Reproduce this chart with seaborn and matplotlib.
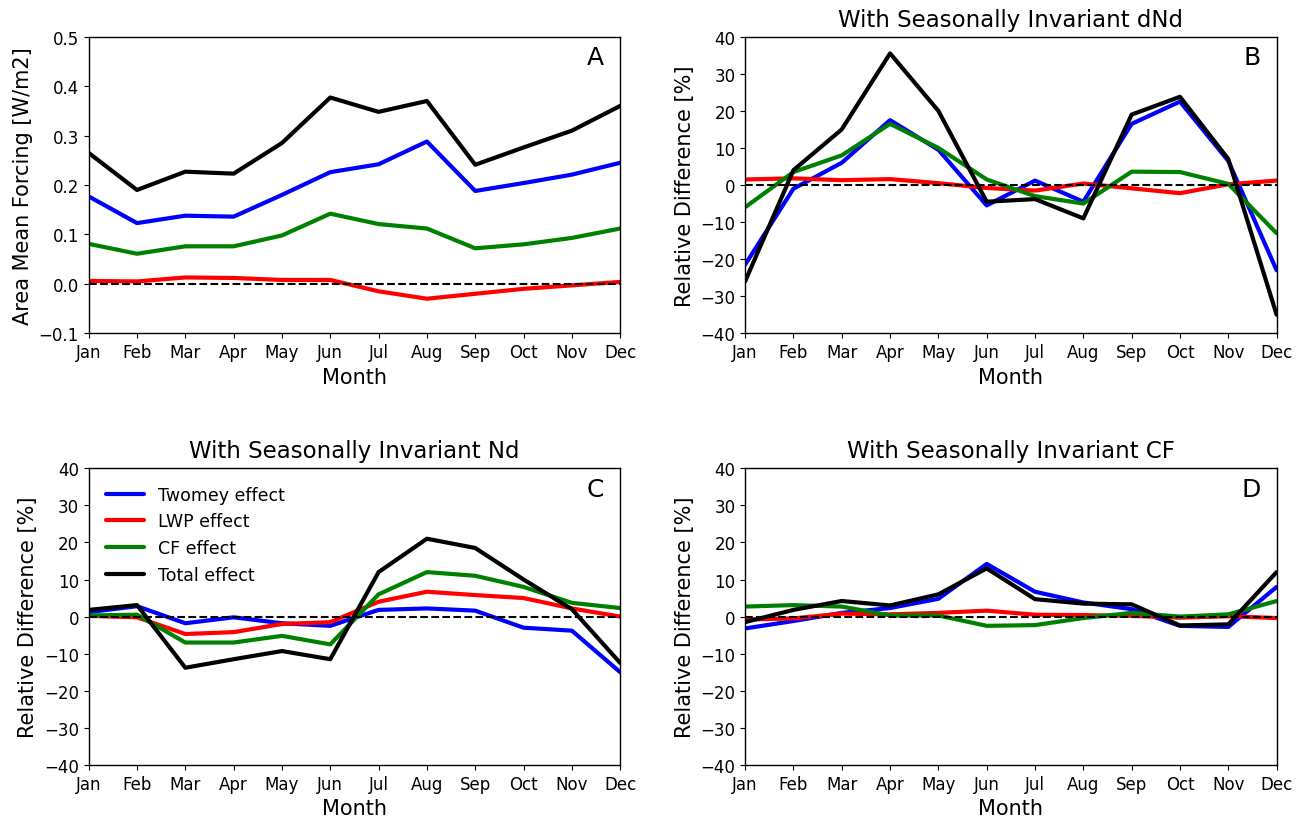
'''Seasonal forcing decomposition - four panel line chart'''

import matplotlib
matplotlib.use("Agg")
import matplotlib.pyplot as plt
import seaborn as sns
import pandas as pd
import numpy as np

# ----------------------------------------------------------- data -----------------------------------------------------------

months = ['Jan', 'Feb', 'Mar', 'Apr', 'May', 'Jun', 'Jul', 'Aug', 'Sep', 'Oct', 'Nov', 'Dec']
effects = ['Twomey effect', 'LWP effect', 'CF effect', 'Total effect']

# panel A: area mean forcing [W/m2]
a_twomey = [0.177, 0.123, 0.138, 0.136, 0.180, 0.226, 0.242, 0.288, 0.188, 0.204, 0.221, 0.245]
a_lwp    = [0.006, 0.005, 0.013, 0.012, 0.008, 0.008, -0.015, -0.030, -0.020, -0.010, -0.003, 0.004]
a_cf     = [0.081, 0.061, 0.076, 0.076, 0.098, 0.142, 0.121, 0.112, 0.072, 0.080, 0.093, 0.112]
a_total  = [0.265, 0.190, 0.227, 0.223, 0.285, 0.377, 0.348, 0.370, 0.241, 0.276, 0.310, 0.360]

# panel B: seasonally invariant dNd [%]
b_twomey = [-21.5, -1.0, 6.0, 17.5, 9.5, -5.5, 1.2, -4.5, 16.5, 22.5, 6.5, -23.0]
b_lwp    = [1.5, 1.8, 1.3, 1.6, 0.5, -0.8, -1.5, 0.4, -0.9, -2.2, 0.2, 1.2]
b_cf     = [-6.0, 3.5, 8.0, 16.5, 10.0, 1.5, -3.0, -5.0, 3.6, 3.5, 0.3, -13.0]
b_total  = [-26.0, 4.0, 15.0, 35.5, 20.0, -4.5, -3.8, -9.0, 19.0, 23.8, 7.0, -35.0]

# panel C: seasonally invariant Nd [%]
c_twomey = [1.2, 2.8, -1.8, -0.2, -1.8, -2.5, 1.8, 2.2, 1.6, -3.0, -3.8, -15.0]
c_lwp    = [0.2, -0.2, -4.7, -4.2, -2.0, -1.5, 4.0, 6.7, 5.8, 5.0, 2.2, 0.0]
c_cf     = [0.3, 0.5, -7.0, -7.0, -5.2, -7.5, 6.0, 12.0, 11.0, 8.0, 3.7, 2.3]
c_total  = [1.8, 3.1, -13.8, -11.5, -9.3, -11.5, 12.0, 21.0, 18.5, 10.0, 2.0, -12.5]

# panel D: seasonally invariant CF [%]
d_twomey = [-3.2, -1.2, 1.0, 2.3, 4.8, 14.2, 6.7, 3.8, 2.0, -2.5, -2.8, 8.0]
d_lwp    = [-0.8, -0.5, 0.8, 0.6, 1.0, 1.6, 0.5, 0.4, 0.2, -0.3, 0.1, -0.4]
d_cf     = [2.7, 3.1, 2.7, 0.3, 0.3, -2.5, -2.3, -0.4, 1.0, 0.0, 0.6, 4.2]
d_total  = [-1.5, 1.8, 4.2, 3.0, 6.0, 13.0, 4.7, 3.5, 3.3, -2.4, -2.1, 12.0]

palette = {'Twomey effect': 'blue', 'LWP effect': 'red', 'CF effect': 'green', 'Total effect': 'black'}

# --------------------------------------------------------- helpers ---------------------------------------------------------

def to_long(series):
    '''stack the four effect series into one long dataframe'''
    frames = []
    for name, vals in zip(effects, series):
        frames.append(pd.DataFrame({'month': np.arange(len(months)), 'value': vals, 'effect': name}))
    return pd.concat(frames, ignore_index=True)


def draw_panel(ax, series, letter, ylim, yticks, ylabel, title=None, legend=False):
    '''draw one panel with lines, zero line, labels'''
    df = to_long(series)
    sns.lineplot(data=df, x='month', y='value', hue='effect', hue_order=effects,
                 palette=palette, linewidth=3, ax=ax, legend=legend)
    ax.axhline(0, color='black', linestyle='--', linewidth=1.5, zorder=5)

    ax.set_xlim(0, len(months) - 1)
    ax.set_xticks(np.arange(len(months)))
    ax.set_xticklabels(months)
    ax.set_ylim(*ylim)
    ax.set_yticks(yticks)
    ax.tick_params(labelsize=12, colors='black')
    ax.set_xlabel('Month', fontsize=15)
    ax.set_ylabel(ylabel, fontsize=15)
    if title:
        ax.set_title(title, fontsize=16.5, pad=8)
    ax.text(0.97, 0.93, letter, transform=ax.transAxes, fontsize=18, ha='right', va='center')

    if legend:
        leg = ax.legend(loc='upper left', fontsize=12.5, frameon=False, handlelength=2.2,
                        borderaxespad=0.6)
        for line in leg.get_lines():
            line.set_linewidth(3)

    for sp in ax.spines.values():
        sp.set_visible(True)
        sp.set_linewidth(1)
        sp.set_color('black')

# ----------------------------------------------------------- plot -----------------------------------------------------------

sns.set_style('ticks')
plt.rcParams['font.family'] = ['DejaVu Sans']
plt.rcParams['text.color'] = 'black'
plt.rcParams['axes.labelcolor'] = 'black'
plt.rcParams['xtick.color'] = 'black'
plt.rcParams['ytick.color'] = 'black'

fig, axes = plt.subplots(2, 2, figsize=(13.04, 8.2), dpi=100)
plt.subplots_adjust(left=0.068, right=0.979, top=0.954, bottom=0.066, wspace=0.235, hspace=0.455)

rel_ticks = [-40, -30, -20, -10, 0, 10, 20, 30, 40]

draw_panel(axes[0, 0], [a_twomey, a_lwp, a_cf, a_total], 'A', (-0.1, 0.5),
           [-0.1, 0.0, 0.1, 0.2, 0.3, 0.4, 0.5], 'Area Mean Forcing [W/m2]')
draw_panel(axes[0, 1], [b_twomey, b_lwp, b_cf, b_total], 'B', (-40, 40), rel_ticks,
           'Relative Difference [%]', title='With Seasonally Invariant dNd')
draw_panel(axes[1, 0], [c_twomey, c_lwp, c_cf, c_total], 'C', (-40, 40), rel_ticks,
           'Relative Difference [%]', title='With Seasonally Invariant Nd', legend=True)
draw_panel(axes[1, 1], [d_twomey, d_lwp, d_cf, d_total], 'D', (-40, 40), rel_ticks,
           'Relative Difference [%]', title='With Seasonally Invariant CF')

fig.savefig('out.png', dpi=100)
